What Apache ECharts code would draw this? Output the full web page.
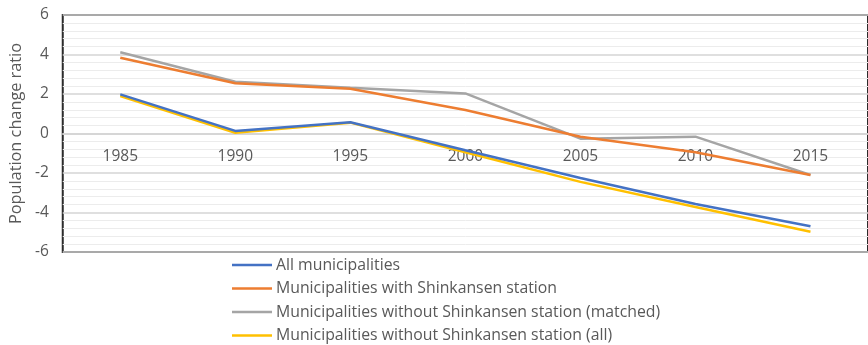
<!DOCTYPE html>
<html><head><meta charset="utf-8">
<script src="https://cdn.jsdelivr.net/npm/echarts@6/dist/echarts.min.js"></script>
<style>html,body{margin:0;padding:0;background:#fff}#c{width:868px;height:345px}</style>
</head><body><div id="c"></div>
<script>
const years = ['1985','1990','1995','2000','2005','2010','2015'];
const allMunicipalities = [1.98, 0.13, 0.57, -0.85, -2.25, -3.57, -4.7];
const withStation = [3.84, 2.54, 2.27, 1.19, -0.16, -0.95, -2.1];
const withoutMatched = [4.11, 2.62, 2.32, 2.03, -0.26, -0.16, -2.1];
const withoutAll = [1.9, 0.04, 0.55, -0.95, -2.45, -3.72, -4.97];
const seriesNames = ['All municipalities','Municipalities with Shinkansen station','Municipalities without Shinkansen station (matched)','Municipalities without Shinkansen station (all)'];
const colors = ['#4472C4','#ED7D31','#A5A5A5','#FFC000'];
const dataSets = [allMunicipalities, withStation, withoutMatched, withoutAll];

const font = 'Open Sans';
const chart = echarts.init(document.getElementById('c'));
chart.setOption({
  animation: false,
  grid: {left: 61, top: 15, width: 812, height: 237, show: true, borderColor: '#2b2b2b', borderWidth: 2, backgroundColor: 'transparent'},
  legend: {
    orient: 'vertical', left: 232, top: 257, bottom: 0, padding: 0, itemGap: 7.5, itemWidth: 40, itemHeight: 2.5,
    icon: 'rect',
    textStyle: {fontFamily: font, fontSize: 15.8, color: '#595959', padding: [0,0,0,-1]},
    data: seriesNames
  },
  xAxis: {
    type: 'category', data: years, boundaryGap: true, position: 'bottom', offset: -118.5,
    axisLine: {show: true, onZero: false, lineStyle: {color: '#d4d4d4', width: 1.5}},
    axisTick: {show: false},
    axisLabel: {fontFamily: font, fontSize: 15.5, color: '#595959', margin: 15},
    splitLine: {show: false}
  },
  yAxis: {
    type: 'value', min: -6, max: 6, interval: 2,
    name: 'Population change ratio', nameLocation: 'middle', nameGap: 38,
    nameTextStyle: {fontFamily: font, fontSize: 16.3, color: '#595959'},
    axisLine: {show: false}, axisTick: {show: false},
    axisLabel: {fontFamily: font, fontSize: 15.5, color: '#595959', margin: 14},
    splitLine: {show: true, lineStyle: {color: '#d4d4d4', width: 1.5}},
    minorTick: {show: false, splitNumber: 5},
    minorSplitLine: {show: true, lineStyle: {color: '#ececec', width: 1}}
  },
  series: dataSets.map((d, i) => ({
    name: seriesNames[i], type: 'line', data: d, symbol: 'none',
    lineStyle: {color: colors[i], width: 2.5}, itemStyle: {color: colors[i]},
    z: 10 - i
  }))
});
</script></body></html>
